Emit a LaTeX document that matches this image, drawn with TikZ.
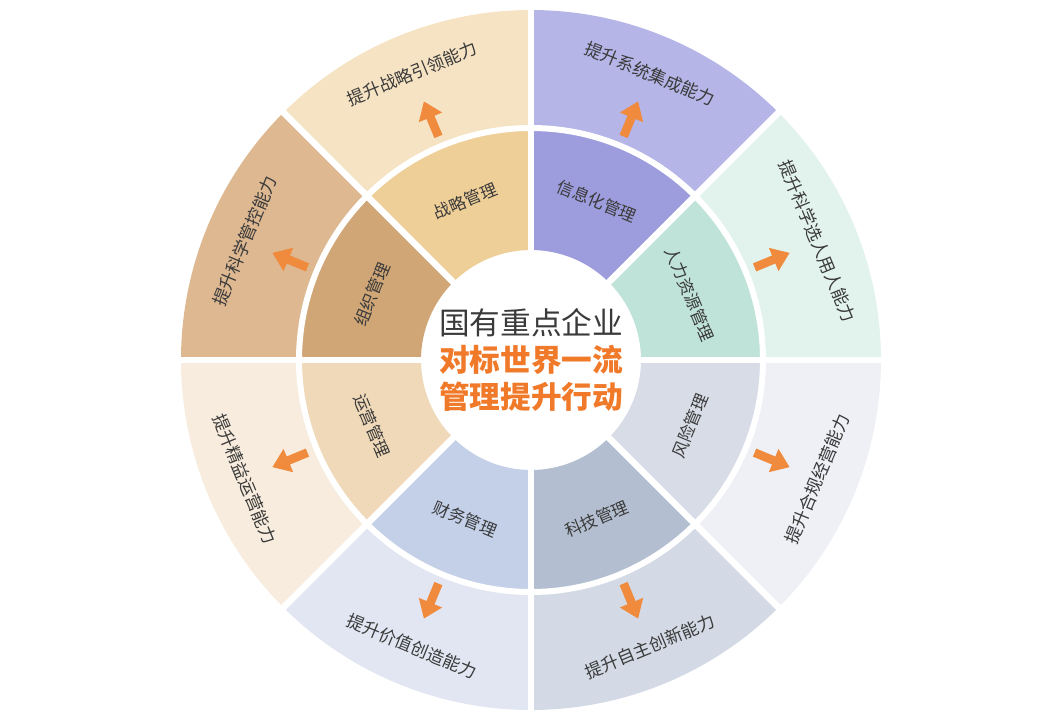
\documentclass[tikz,border=0pt]{standalone}
\usepackage{fontspec}
\setmainfont{Noto Sans CJK SC}
\usetikzlibrary{arrows.meta}
\definecolor{ora}{HTML}{F08A3C}
\definecolor{ora2}{HTML}{F07A2A}
\definecolor{txt}{HTML}{3A3A3A}
\begin{document}
\begin{tikzpicture}[x=0.75pt,y=0.75pt,
  inlab/.style={text=txt,font=\fontsize{12.5}{14}\selectfont},
  outlab/.style={text=txt,font=\fontsize{13}{15}\selectfont},
  arr/.style={ora,line width=6.5pt,-{Triangle[length=13pt,width=18pt]}}]
\useasboundingbox (0,0) rectangle (1057,-719);
\begin{scope}[shift={(531,-360)}]
\def\ra{110}\def\rb{232}\def\rc{350}
\foreach \a/\ci/\co [count=\i] in {
  112.5/EFCF98/F5E3C3,
  67.5/9D9CDD/B5B5E8,
  22.5/BFE3D8/E2F2EC,
  -22.5/D8DCE6/EEF0F5,
  -67.5/B3BFD0/D3DAE5,
  -112.5/C3D0E8/E1E6F2,
  -157.5/EFD9B8/F7ECDD,
  157.5/D0A676/DDB891}{
  \definecolor{cin}{HTML}{\ci}\definecolor{cout}{HTML}{\co}
  \pgfmathsetmacro\sa{\a-22.5}\pgfmathsetmacro\ea{\a+22.5}
  \fill[cin] (\sa:\ra) arc[start angle=\sa,end angle=\ea,radius=\ra] -- (\ea:\rb) arc[start angle=\ea,end angle=\sa,radius=\rb] -- cycle;
  \fill[cout] (\sa:\rb) arc[start angle=\sa,end angle=\ea,radius=\rb] -- (\ea:\rc) arc[start angle=\ea,end angle=\sa,radius=\rc] -- cycle;
}
\foreach \a in {0,45,...,315} \draw[white,line width=5pt] (\a:\ra-5) -- (\a:\rc+5);
\draw[white,line width=4.5pt] (0,0) circle[radius=\rb];
\foreach \a/\il/\ol/\rot [count=\i] in {
  112.5/战略管理/提升战略引领能力/22.5,
  67.5/信息化管理/提升系统集成能力/-22.5,
  22.5/人力资源管理/提升科学选人用人能力/-67.5,
  -22.5/风险管理/提升合规经营能力/67.5,
  -67.5/科技管理/提升自主创新能力/22.5,
  -112.5/财务管理/提升价值创造能力/-22.5,
  -157.5/运营管理/提升精益运营能力/-67.5,
  157.5/组织管理/提升科学管控能力/67.5}{
  \node[inlab,rotate=\rot] (in\i) at (\a:172) {\il};
  \node[outlab,rotate=\rot] (out\i) at (\a:310) {\ol};
  \coordinate (as\i) at (\a:242);
  \coordinate (ae\i) at (\a:280);
  \draw[arr] (as\i) -- (ae\i);
}
\node[text=txt,font=\fontsize{23}{26}\selectfont] (c1) at (0,37) {国有重点企业};
\node[text=ora2,font=\fontsize{23}{26}\selectfont\bfseries] (c2) at (0,0) {对标世界一流};
\node[text=ora2,font=\fontsize{23}{26}\selectfont\bfseries] (c3) at (0,-37) {管理提升行动};
\end{scope}
\end{tikzpicture}
\end{document}
